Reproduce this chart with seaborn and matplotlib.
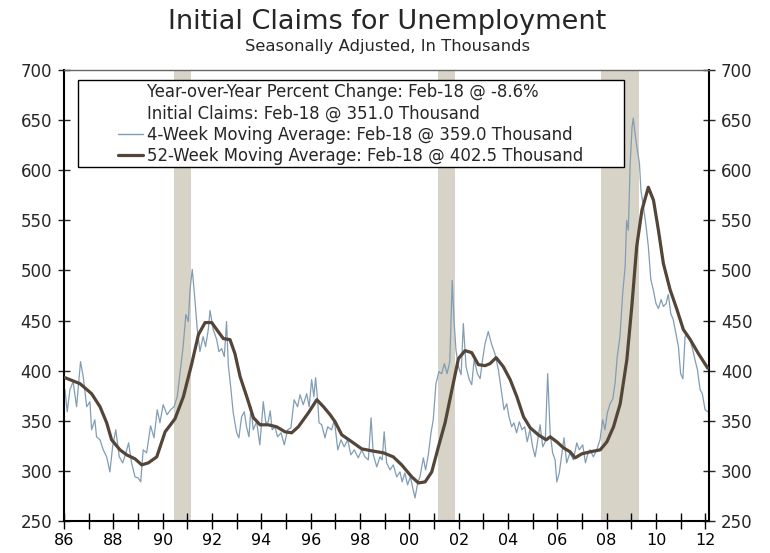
import numpy as np
import matplotlib
matplotlib.use("Agg")
import matplotlib.pyplot as plt
import pandas as pd
import seaborn as sns
from matplotlib.lines import Line2D
from matplotlib.patches import Rectangle

# 4-week moving average of initial claims (thousands)
wk4_year = [1986.04, 1986.13, 1986.24, 1986.37, 1986.51, 1986.67, 1986.78, 1986.92,
            1987.05, 1987.12, 1987.25, 1987.32, 1987.46, 1987.59, 1987.73, 1987.86, 1987.97,
            1988.10, 1988.24, 1988.38, 1988.51, 1988.62, 1988.74, 1988.88,
            1989.01, 1989.11, 1989.21, 1989.35, 1989.51, 1989.65, 1989.78, 1989.89,
            1990.02, 1990.18, 1990.32, 1990.46, 1990.59, 1990.70, 1990.83, 1990.94,
            1991.04, 1991.11, 1991.20, 1991.31, 1991.40, 1991.51, 1991.64, 1991.74, 1991.85, 1991.92,
            1992.05, 1992.19, 1992.28, 1992.39, 1992.50, 1992.59, 1992.66, 1992.77, 1992.86,
            1993.00, 1993.09, 1993.20, 1993.31, 1993.40, 1993.50, 1993.58, 1993.67, 1993.81, 1993.94,
            1994.08, 1994.18, 1994.28, 1994.36, 1994.44, 1994.55, 1994.66, 1994.80, 1994.93,
            1995.07, 1995.20, 1995.33, 1995.47, 1995.57, 1995.70, 1995.84, 1995.94,
            1996.04, 1996.13, 1996.20, 1996.28, 1996.34, 1996.45, 1996.58, 1996.69, 1996.85, 1996.96,
            1997.10, 1997.23, 1997.36, 1997.50, 1997.63, 1997.77, 1997.93,
            1998.07, 1998.20, 1998.34, 1998.45, 1998.54, 1998.68, 1998.81, 1998.90, 1998.98,
            1999.08, 1999.22, 1999.35, 1999.49, 1999.62, 1999.71, 1999.82, 1999.93,
            2000.04, 2000.16, 2000.23, 2000.34, 2000.43, 2000.57, 2000.66, 2000.77, 2000.88, 2000.97,
            2001.08, 2001.20, 2001.31, 2001.42, 2001.53, 2001.64, 2001.74, 2001.81, 2001.89, 2001.99,
            2002.10, 2002.19, 2002.30, 2002.43, 2002.53, 2002.63, 2002.76, 2002.87, 2002.97,
            2003.07, 2003.20, 2003.34, 2003.47, 2003.61, 2003.75, 2003.84, 2003.95,
            2004.04, 2004.15, 2004.24, 2004.35, 2004.46, 2004.57, 2004.68, 2004.78, 2004.89,
            2005.00, 2005.10, 2005.21, 2005.30, 2005.41, 2005.51, 2005.61, 2005.71, 2005.81, 2005.91, 2005.98,
            2006.08, 2006.19, 2006.27, 2006.38, 2006.51, 2006.65, 2006.79, 2006.89,
            2007.03, 2007.14, 2007.26, 2007.33, 2007.46, 2007.60, 2007.73, 2007.84, 2007.93,
            2008.03, 2008.14, 2008.25, 2008.34, 2008.43, 2008.54, 2008.65, 2008.75, 2008.81, 2008.88, 2008.95,
            2009.03, 2009.08, 2009.15, 2009.22, 2009.33, 2009.39, 2009.49, 2009.60, 2009.69, 2009.79, 2009.89,
            2010.00, 2010.10, 2010.21, 2010.30, 2010.41, 2010.50, 2010.60, 2010.70, 2010.81, 2010.91,
            2011.00, 2011.09, 2011.18, 2011.27, 2011.38, 2011.49, 2011.58, 2011.68, 2011.79, 2011.88, 2011.99,
            2012.10]
wk4_claims = [381, 359, 381, 389, 364, 409, 394, 364,
              369, 341, 351, 334, 331, 321, 314, 299, 324,
              341, 314, 308, 318, 328, 308, 294,
              293, 289, 321, 318, 345, 333, 361, 348,
              366, 356, 361, 364, 374, 397, 424, 456,
              449, 481, 501, 470, 442, 419, 434, 424, 441, 460,
              441, 431, 419, 422, 414, 449, 406, 381, 358,
              338, 333, 354, 359, 344, 334, 364, 341, 349, 326,
              369, 348, 349, 360, 341, 344, 334, 338, 326,
              341, 343, 371, 364, 376, 366, 377, 364,
              391, 374, 393, 371, 348, 346, 333, 344, 341, 351,
              321, 331, 324, 331, 316, 321, 313,
              321, 314, 311, 353, 316, 304, 314, 311, 339,
              308, 301, 306, 294, 299, 289, 298, 286,
              294, 281, 273, 288, 294, 313, 301, 316, 338, 351,
              387, 399, 397, 407, 397, 409, 490, 451, 421, 404,
              396, 447, 404, 391, 386, 411, 397, 392, 411,
              427, 439, 426, 417, 401, 377, 361, 367,
              354, 344, 348, 338, 349, 341, 344, 329, 341,
              324, 314, 331, 346, 324, 329, 397, 338, 318, 311, 289,
              298, 318, 333, 308, 318, 311, 328, 321,
              326, 308, 319, 321, 314, 321, 331, 351, 341,
              358, 367, 372, 387, 414, 434, 477, 504, 550, 540, 604,
              643, 652, 637, 624, 607, 580, 564, 544, 524, 491, 481,
              467, 462, 471, 464, 467, 476, 457, 451, 437, 424,
              397, 392, 434, 437, 431, 421, 411, 401, 381, 377, 361,
              359]

# 52-week moving average (thick line)
wk52_year = [1986.04, 1986.65, 1987.12, 1987.46, 1987.73, 1987.93, 1988.27, 1988.54, 1988.88,
             1989.15, 1989.42, 1989.76, 1990.10, 1990.50, 1990.84, 1991.18, 1991.45, 1991.72, 1991.99,
             1992.19, 1992.46, 1992.73, 1992.93, 1993.14, 1993.41, 1993.68, 1993.95,
             1994.28, 1994.62, 1994.96, 1995.23, 1995.50, 1995.91, 1996.25, 1996.52, 1996.79, 1996.99,
             1997.26, 1997.67, 1998.07, 1998.48, 1998.95, 1999.35, 1999.69,
             2000.10, 2000.37, 2000.64, 2000.91, 2001.18, 2001.45, 2001.72, 2001.99,
             2002.26, 2002.53, 2002.80, 2003.07, 2003.27, 2003.52, 2003.81,
             2004.09, 2004.36, 2004.63, 2004.90, 2005.23, 2005.55, 2005.71, 2005.98,
             2006.25, 2006.52, 2006.72, 2006.99, 2007.33, 2007.74, 2008.01, 2008.28, 2008.55, 2008.82,
             2009.02, 2009.22, 2009.43, 2009.69, 2009.90, 2010.10, 2010.30, 2010.57, 2010.85,
             2011.11, 2011.39, 2011.72, 2012.10]
wk52_claims = [393, 387, 377, 364, 348, 331, 321, 316, 312,
               306, 308, 314, 339, 352, 374, 407, 436, 448, 448,
               441, 432, 431, 417, 394, 374, 353, 346,
               346, 344, 339, 338, 344, 358, 371, 364, 356, 349,
               336, 329, 322, 320, 318, 314, 306,
               294, 288, 289, 299, 324, 348, 380, 412,
               420, 418, 406, 405, 407, 413, 404,
               391, 374, 354, 343, 336, 331, 334, 329,
               323, 319, 313, 317, 319, 321, 329, 344, 367, 411,
               464, 524, 560, 583, 570, 540, 507, 481, 461,
               441, 431, 417, 402.5]

# recessions (shaded)
recession_start = [1990.46, 2001.15, 2007.78]
recession_end = [1991.14, 2001.86, 2009.32]

legend_labels = ["Year-over-Year Percent Change: Feb-18 @ -8.6%",
                 "Initial Claims: Feb-18 @ 351.0 Thousand",
                 "4-Week Moving Average: Feb-18 @ 359.0 Thousand",
                 "52-Week Moving Average: Feb-18 @ 402.5 Thousand"]

y_ticks = list(range(250, 701, 50))
x_ticks = list(range(1986, 2013))
x_labels = [str(y)[-2:] if y % 2 == 0 else "" for y in x_ticks]

thin_color = "#819db5"
thick_color = "#534538"
shade_color = "#d7d3c7"

sns.set_style("ticks")
plt.rcParams['font.family'] = ['DejaVu Sans']

fig = plt.figure(figsize=(7.7, 5.53), dpi=100)
ax = fig.add_axes([64/770, 1 - 521/553, 645/770, 451/553])

for s, e in zip(recession_start, recession_end):
    ax.axvspan(s, e, color=shade_color, lw=0, zorder=0)

df4 = pd.DataFrame({"year": wk4_year, "claims": wk4_claims})
df52 = pd.DataFrame({"year": wk52_year, "claims": wk52_claims})
sns.lineplot(data=df4, x="year", y="claims", color=thin_color, lw=0.9, ax=ax, zorder=2)
sns.lineplot(data=df52, x="year", y="claims", color=thick_color, lw=2.3, ax=ax, zorder=3)

ax.set_xlim(1986, 2012.15)
ax.set_ylim(250, 700)
ax.set_xticks(x_ticks)
ax.set_xticklabels(x_labels)
ax.set_yticks(y_ticks)
ax.set_xlabel("")
ax.set_ylabel("")
ax.tick_params(axis="x", direction="inout", length=11, width=1, color="black",
               labelsize=11.5, pad=3, colors="black")
ax.tick_params(axis="y", direction="inout", length=9, width=1, left=True, right=True,
               labelleft=True, labelright=True, labelsize=12, pad=4)
for side in ["left", "right", "bottom"]:
    ax.spines[side].set_color("black")
    ax.spines[side].set_linewidth(1.5)
ax.spines["top"].set_color("#666666")
ax.spines["top"].set_linewidth(1)

# legend box
ax.add_patch(Rectangle(((78 - 64) / 645, 1 - (167 - 70) / 451), (624 - 78) / 645, 87 / 451,
                       transform=ax.transAxes, facecolor="white", edgecolor="black",
                       lw=1, zorder=4))
handles = [Line2D([], [], color="none"), Line2D([], [], color="none"),
           Line2D([], [], color=thin_color, lw=1), Line2D([], [], color=thick_color, lw=2.3)]
leg = ax.legend(handles, legend_labels, loc="upper left",
                bbox_to_anchor=((118 - 64) / 645, 1 - (83 - 70) / 451),
                frameon=False, handlelength=1.5, handletextpad=0.25, labelspacing=0.2,
                fontsize=11.9, borderaxespad=0, borderpad=0)
leg.set_zorder(5)

fig.text(0.503, 1 - 22 / 553, "Initial Claims for Unemployment", ha="center", va="center", fontsize=19.5)
fig.text(0.503, 1 - 47 / 553, "Seasonally Adjusted, In Thousands", ha="center", va="center", fontsize=11.8)

fig.savefig("out.png", dpi=100)
